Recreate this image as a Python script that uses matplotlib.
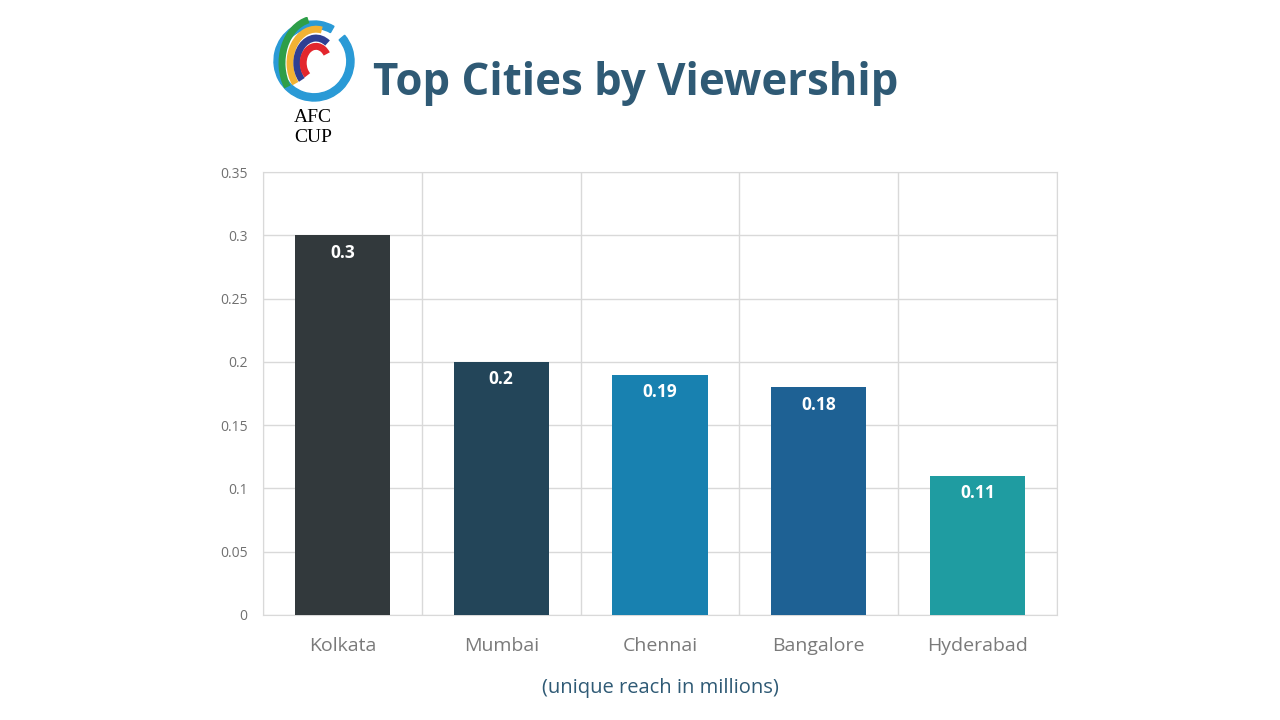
import matplotlib.pyplot as plt
import numpy as np
from matplotlib.patches import Arc, Wedge

plt.rcParams["font.family"] = ["Open Sans", "DejaVu Sans"]

cities = ["Kolkata", "Mumbai", "Chennai", "Bangalore", "Hyderabad"]
reach = [0.30, 0.20, 0.19, 0.18, 0.11]
value_labels = ["0.3", "0.2", "0.19", "0.18", "0.11"]
bar_colors = ["#32393c", "#234559", "#1881b0", "#1e6194", "#1f9ca1"]
y_ticks = [0, 0.05, 0.1, 0.15, 0.2, 0.25, 0.3, 0.35]
y_tick_labels = ["0", "0.05", "0.1", "0.15", "0.2", "0.25", "0.3", "0.35"]

title_color = "#2f5a75"

fig = plt.figure(figsize=(12.8, 7.2), dpi=100)
ax = fig.add_axes([263 / 1280, 105 / 720, 794 / 1280, 443 / 720])

x = np.arange(len(cities))
ax.bar(x, reach, width=0.6, color=bar_colors, zorder=3)
for xi, v, lab in zip(x, reach, value_labels):
    ax.text(xi, v - 0.0068, lab, ha="center", va="top", color="white",
            fontsize=12.5, fontweight="bold", zorder=4)

ax.set_xlim(-0.5, 4.5)
ax.set_ylim(0, 0.35)
ax.set_yticks(y_ticks)
ax.set_yticklabels(y_tick_labels, fontsize=10, color="#707070")
ax.set_xticks(x)
ax.set_xticklabels(cities, fontsize=14, color="#7a7a7a")
ax.set_xticks(np.arange(-0.5, 5, 1), minor=True)
ax.tick_params(axis="both", which="both", length=0)
ax.tick_params(axis="x", pad=16)
ax.tick_params(axis="y", pad=11)
ax.grid(axis="y", color="#d9d9d9", linewidth=1)
ax.grid(axis="x", which="minor", color="#d9d9d9", linewidth=1)
ax.set_axisbelow(True)
for s in ax.spines.values():
    s.set_color("#d9d9d9")

fig.text(373 / 1280, 1 - 84 / 720, "Top Cities by Viewership", fontsize=31.5,
         fontweight="bold", color=title_color, ha="left", va="center")
fig.text(660 / 1280, 1 - 688 / 720, "(unique reach in millions)", fontsize=14.5,
         color=title_color, ha="center", va="center")

# simple AFC Cup logo
lax = fig.add_axes([270 / 1280, 1 - 105 / 720, 88 / 1280, 88 / 720])
lax.set_xlim(-1.1, 1.1)
lax.set_ylim(-1.1, 1.1)
lax.set_aspect("equal")
lax.axis("off")
lax.add_patch(Wedge((0, 0), 1.0, 60, 400, width=0.18, color="#2a9ad6"))
petals = [("#2e9e48", 0.85, 100, 220), ("#f2b233", 0.65, 80, 225),
          ("#2f3f93", 0.48, 60, 230), ("#e3262d", 0.32, 40, 235)]
for c, r, t1, t2 in petals:
    lax.add_patch(Arc((0.05, -0.05), 2 * r, 2 * r * 1.3, theta1=t1, theta2=t2,
                      color=c, linewidth=5))
fig.text(313 / 1280, 1 - 117 / 720, "AFC", fontsize=14, family="Liberation Serif",
         color="black", ha="center", va="center")
fig.text(313 / 1280, 1 - 137 / 720, "CUP", fontsize=14, family="Liberation Serif",
         color="black", ha="center", va="center")

fig.savefig("out.png", dpi=100)
